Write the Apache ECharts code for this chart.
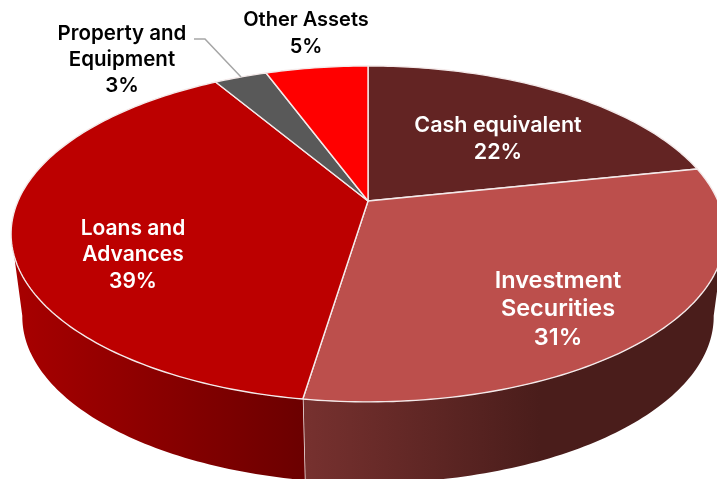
<!DOCTYPE html>
<html>
<head>
<meta charset="utf-8">
<style>
  html, body { margin: 0; padding: 0; background: #fff; }
  #chart { width: 717px; height: 479px; }
</style>
<script src="https://cdn.jsdelivr.net/npm/echarts@6/dist/echarts.min.js"></script>
</head>
<body>
<div id="chart"></div>
<script>
const categories = ['Cash equivalent', 'Investment\nSecurities', 'Loans and\nAdvances', 'Property and\nEquipment', 'Other Assets']
// slice sizes estimated from the drawn angles
const sliceValues = [21.7, 30.7, 39.1, 2.9, 5.6]
// percentages as printed on the labels
const printedPercents = [22, 31, 39, 3, 5]

const topColors = ['#632423', '#BC4F4C', '#BC0000', '#595959', '#FF0000']
const wallColors = [
  ['#632423', '#632423'],
  ['#77312F', '#4A1D1B'],
  ['#A80000', '#6C0000'],
  ['#404040', '#404040'],
  ['#C00000', '#C00000']
]
const wallGradientX = [[600, 717], [302, 540], [13, 300], [13, 300], [13, 300]]
const textColors = ['#fff', '#fff', '#fff', '#000', '#000']
const labelCenters = [[498, 139], [558, 309], [133, 255], [122, 60], [306, 33]]
const labelSizes = [21.5, 23.5, 21, 20.5, 20]
const labelLineHeights = [27, 28.5, 26.5, 26, 27]

// perspective of the disc: far side is squeezed, apex sits above the ellipse middle
const persp = 0.196
const topDisc = { cx: 368, cy: 201, a: 350, b: 161.5 }
const bottomDisc = { cx: 368, cy: 284, a: 339, b: 160 }
const wallFrom = 101
const wallTo = 259

function project(disc, deg) {
  const t = deg * Math.PI / 180
  const w = 1 + persp * Math.cos(t)
  return [disc.cx + disc.a * Math.sin(t) / w, disc.cy - disc.b * Math.cos(t) / w]
}

function arc(disc, from, to) {
  const pts = []
  const steps = Math.max(2, Math.ceil(Math.abs(to - from)))
  for (let i = 0; i <= steps; i++) pts.push(project(disc, from + (to - from) * i / steps))
  return pts
}

const total = sliceValues.reduce((s, v) => s + v, 0)

function renderSlice(params, api) {
  const i = params.dataIndex
  const before = sliceValues.slice(0, i).reduce((s, v) => s + v, 0)
  const start = before / total * 360
  const end = (before + api.value(0)) / total * 360
  const children = []

  const wStart = Math.max(start, wallFrom)
  const wEnd = Math.min(end, wallTo)
  if (wEnd > wStart) {
    children.push({
      type: 'polygon',
      shape: { points: arc(topDisc, wStart, wEnd).concat(arc(bottomDisc, wEnd, wStart)) },
      style: {
        fill: new echarts.graphic.LinearGradient(wallGradientX[i][0], 0, wallGradientX[i][1], 0, [
          { offset: 0, color: wallColors[i][0] },
          { offset: 1, color: wallColors[i][1] }
        ], true),
        stroke: 'none'
      }
    })
    // white seam between two walls
    if (wEnd < wallTo) {
      children.push({
        type: 'line',
        shape: {
          x1: project(topDisc, wEnd)[0], y1: project(topDisc, wEnd)[1],
          x2: project(bottomDisc, wEnd)[0], y2: project(bottomDisc, wEnd)[1]
        },
        style: { stroke: '#f4eaea', lineWidth: 1.5 }
      })
    }
  }

  children.push({
    type: 'polygon',
    shape: { points: [[topDisc.cx, topDisc.cy]].concat(arc(topDisc, start, end)) },
    style: { fill: topColors[i], stroke: '#f4eaea', lineWidth: 1.4, lineJoin: 'round' }
  })
  return { type: 'group', children }
}

function renderLabel(params, api) {
  const i = params.dataIndex
  return {
    type: 'text',
    x: labelCenters[i][0],
    y: labelCenters[i][1],
    style: {
      text: categories[i] + '\n' + api.value(0) + '%',
      fill: textColors[i],
      fontFamily: 'Inter',
      fontWeight: 600,
      fontSize: labelSizes[i],
      lineHeight: labelLineHeights[i],
      align: 'center',
      verticalAlign: 'middle'
    }
  }
}

const myChart = echarts.init(document.getElementById('chart'), null, { renderer: 'canvas' })

myChart.setOption({
  animation: false,
  backgroundColor: '#fff',
  series: [
    {
      type: 'custom',
      coordinateSystem: 'none',
      silent: true,
      renderItem: renderSlice,
      data: sliceValues.map(v => [v])
    },
    {
      type: 'custom',
      coordinateSystem: 'none',
      silent: true,
      z: 5,
      renderItem: renderLabel,
      data: printedPercents.map(v => [v])
    }
  ],
  graphic: [
    {
      type: 'polyline',
      z: 10,
      silent: true,
      shape: { points: [[194, 39], [205, 39], [241, 77]] },
      style: { stroke: '#a6a6a6', lineWidth: 1.5, fill: 'none' }
    }
  ]
})
</script>
</body>
</html>
